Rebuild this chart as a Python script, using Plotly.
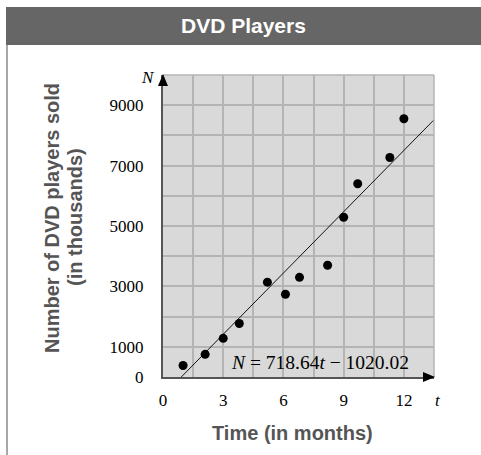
import plotly.graph_objects as go

# Data
months = [1.0, 2.1, 3.0, 3.8, 5.2, 6.1, 6.8, 8.2, 9.0, 9.7, 11.3, 12.0]
players = [380, 750, 1280, 1770, 3140, 2740, 3300, 3700, 5290, 6400, 7270, 8550]
fit_t = [0.91, 13.46]
fit_n = [0, 8490]
x_ticks = [0, 3, 6, 9, 12]
y_ticks = [0, 1000, 3000, 5000, 7000, 9000]

W, H = 481, 455
L, R, T, B = 163, 47, 75, 78
PW, PH = W - L - R, H - T - B


def px(x):
    return (x - L) / PW


def py(y):
    return (H - B - y) / PH


SANS = "Liberation Sans, Arial, sans-serif"
SERIF = "Liberation Serif, Times New Roman, serif"
AXC = "#555555"
GRID = "#b4b4b4"

fig = go.Figure()
fig.add_trace(go.Scatter(x=fit_t, y=fit_n, mode="lines",
                         line=dict(color="#111111", width=1), hoverinfo="skip"))
fig.add_trace(go.Scatter(x=months, y=players, mode="markers",
                         marker=dict(color="black", size=9), cliponaxis=False))

fig.update_layout(
    width=W, height=H, margin=dict(l=L, r=R, t=T, b=B),
    paper_bgcolor="white", plot_bgcolor="#d9d9d9", showlegend=False,
    xaxis=dict(range=[0, 13.5], tickvals=x_ticks, showgrid=True, gridcolor=GRID,
               gridwidth=1.5, zeroline=False, showline=True, linecolor=AXC,
               linewidth=2, ticks="", ticklabelstandoff=7,
               tickfont=dict(family=SERIF, size=17, color="black"),
               minor=dict(dtick=1.5, tick0=0, showgrid=True, gridcolor=GRID,
                          gridwidth=1.5, ticks="")),
    yaxis=dict(range=[0, 10000], tickvals=y_ticks, showgrid=True, gridcolor=GRID,
               gridwidth=1.5, zeroline=False, showline=True, linecolor=AXC,
               linewidth=2, ticks="", ticklabelstandoff=14,
               tickfont=dict(family=SERIF, size=17, color="black"),
               minor=dict(dtick=1000, tick0=0, showgrid=True, gridcolor=GRID,
                          gridwidth=1.5, ticks="")),
)

shapes = [
    dict(type="line", xref="paper", yref="paper", x0=0, x1=1, y0=1, y1=1,
         line=dict(color=GRID, width=1.5), layer="below"),
    dict(type="line", xref="paper", yref="paper", x0=1, x1=1, y0=0, y1=1,
         line=dict(color=GRID, width=1.5), layer="below"),
    dict(type="rect", xref="paper", yref="paper", x0=px(6), x1=px(482),
         y0=py(45), y1=py(7), fillcolor="#666666", line=dict(width=0)),
    dict(type="line", xref="paper", yref="paper", x0=px(7), x1=px(7),
         y0=py(456), y1=py(45), line=dict(color="#8a8a8a", width=1.5)),
    dict(type="path", xref="paper", yref="paper", xsizemode="pixel", ysizemode="pixel",
         xanchor=0, yanchor=1, path="M -5 -11 L 5 -11 L 0 1 Z",
         fillcolor="black", line=dict(width=0)),
    dict(type="path", xref="paper", yref="paper", xsizemode="pixel", ysizemode="pixel",
         xanchor=1, yanchor=0, path="M -11 -5 L -11 5 L 1 0 Z",
         fillcolor="black", line=dict(width=0)),
]
fig.update_layout(shapes=shapes)

ann = [
    dict(text="<b>DVD Players</b>", x=px(243), y=py(26), font=dict(family=SANS, size=21, color="white")),
    dict(text="<b>Number of DVD players sold</b>", x=px(52), y=py(218), textangle=-90,
         font=dict(family=SANS, size=20, color=AXC)),
    dict(text="<b>(in thousands)</b>", x=px(75), y=py(217), textangle=-90,
         font=dict(family=SANS, size=20, color=AXC)),
    dict(text="<b>Time (in months)</b>", x=px(292), y=py(433),
         font=dict(family=SANS, size=20, color=AXC)),
    dict(text="<i>N</i>", x=px(148), y=py(77), font=dict(family=SERIF, size=17, color="black")),
    dict(text="<i>t</i>", x=px(438), y=py(400), font=dict(family=SERIF, size=17, color="black")),
    dict(text="<i>N</i> = 718.64<i>t</i> − 1020.02", x=px(320), y=py(362),
         font=dict(family=SERIF, size=19.5, color="black")),
]
for a in ann:
    a.update(xref="paper", yref="paper", showarrow=False, xanchor="center", yanchor="middle")
fig.update_layout(annotations=ann)

fig.write_html("out.html", config={"displayModeBar": False},
               post_script="document.body.style.margin='0';document.body.style.overflow='hidden';")
